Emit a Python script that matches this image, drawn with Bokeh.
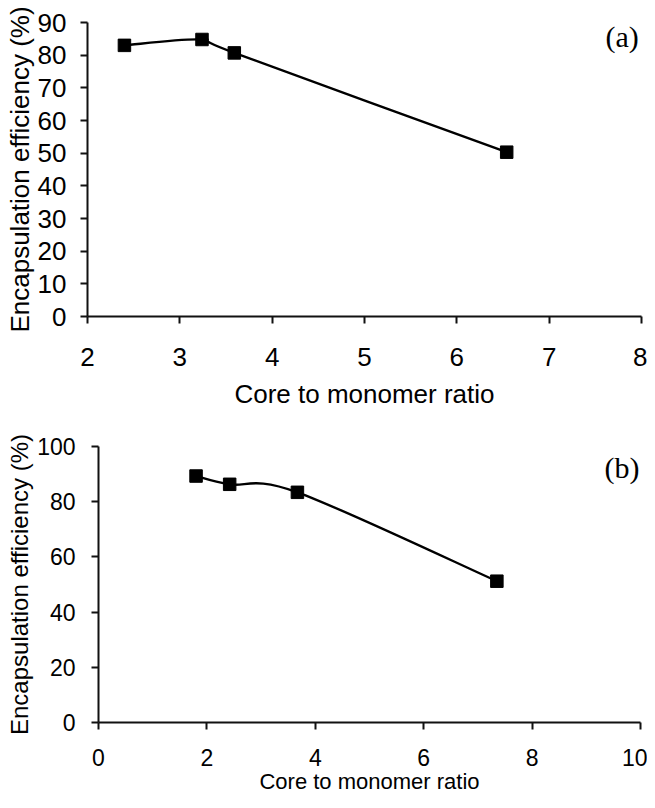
from bokeh.plotting import figure
from bokeh.models import Range1d, FixedTicker, Label, ColumnDataSource
from bokeh.embed import file_html
from bokeh.resources import INLINE

# ---- data ----
ratio_a = [2.40, 3.24, 3.59, 6.54]
eff_a = [83.0, 84.8, 80.7, 50.3]
ratio_b = [1.80, 2.42, 3.67, 7.35]
eff_b = [89.3, 86.3, 83.4, 51.2]

xticks_a = [2, 3, 4, 5, 6, 7, 8]
yticks_a = [0, 10, 20, 30, 40, 50, 60, 70, 80, 90]
xticks_b = [0, 2, 4, 6, 8, 10]
yticks_b = [0, 20, 40, 60, 80, 100]

x_title = "Core to monomer ratio"
y_title = "Encapsulation efficiency (%)"
panel_tags = ["(a)", "(b)"]


def smooth_segments(xs, ys):
    """Bezier control points for a smoothed (Catmull-Rom style) line through the data."""
    n = len(xs)
    d = dict(x0=[], y0=[], x1=[], y1=[], cx0=[], cy0=[], cx1=[], cy1=[])
    for i in range(n - 1):
        ip = max(i - 1, 0)
        inx = min(i + 2, n - 1)
        d["x0"].append(xs[i]); d["y0"].append(ys[i])
        d["x1"].append(xs[i + 1]); d["y1"].append(ys[i + 1])
        d["cx0"].append(xs[i] + (xs[i + 1] - xs[ip]) / 6.0)
        d["cy0"].append(ys[i] + (ys[i + 1] - ys[ip]) / 6.0)
        d["cx1"].append(xs[i + 1] - (xs[inx] - xs[i]) / 6.0)
        d["cy1"].append(ys[i + 1] - (ys[inx] - ys[i]) / 6.0)
    return d


def make_panel(xs, ys, xr, yr, xt, yt, tag, tag_pos, height, borders,
               tick_fs, xlab_fs, ylab_fs, xstd, ystd, xlab_std, ylab_std):
    p = figure(width=647, height=height, output_backend="svg", toolbar_location=None,
               x_range=Range1d(*xr), y_range=Range1d(*yr))
    p.min_border_left, p.min_border_right, p.min_border_top, p.min_border_bottom = borders
    p.outline_line_color = None
    p.background_fill_color = "white"
    p.border_fill_color = "white"
    p.xgrid.visible = False
    p.ygrid.visible = False

    for ax, ticks, fs, std in ((p.xaxis[0], xt, xlab_fs, xstd), (p.yaxis[0], yt, ylab_fs, ystd)):
        ax.ticker = FixedTicker(ticks=ticks)
        ax.minor_tick_line_color = None
        ax.major_tick_in = 0
        ax.major_tick_out = 7
        ax.axis_line_width = 2
        ax.axis_line_color = "#111111"
        ax.major_tick_line_width = 2
        ax.major_tick_line_color = "#111111"
        ax.major_label_text_font = "Liberation Sans"
        ax.major_label_text_font_size = tick_fs
        ax.major_label_text_color = "black"
        ax.axis_label_text_font = "Liberation Sans"
        ax.axis_label_text_font_style = "normal"
        ax.axis_label_text_font_size = fs
        ax.axis_label_text_color = "black"
        ax.major_label_standoff = std

    p.xaxis.axis_label = x_title
    p.yaxis.axis_label = y_title
    p.xaxis.axis_label_standoff = xlab_std
    p.yaxis.axis_label_standoff = ylab_std

    seg = ColumnDataSource(smooth_segments(xs, ys))
    p.bezier(x0="x0", y0="y0", x1="x1", y1="y1", cx0="cx0", cy0="cy0",
             cx1="cx1", cy1="cy1", source=seg, line_color="black", line_width=2.4)
    p.scatter(xs, ys, marker="square", size=12.5, fill_color="black", line_color="black")

    p.add_layout(Label(x=tag_pos[0], y=tag_pos[1], text=tag, text_align="right",
                       text_baseline="middle", text_font="Liberation Serif",
                       text_font_size="30px", text_color="black"))
    return p


pa = make_panel(ratio_a, eff_a, (2, 8), (0, 90), xticks_a, yticks_a, panel_tags[0],
                (7.97, 85.6), 428, (87, 6, 22, 112),
                "26px", "26px", "26px", 24, 14, 10, 0)
pb = make_panel(ratio_b, eff_b, (0, 10), (0, 100), xticks_b, yticks_b, panel_tags[1],
                (9.98, 92.5), 372, (98, 7, 18, 78),
                "23px", "22px", "24px", 19, 16, 0, 1)

open("out.html", "w").write(file_html([pa, pb], INLINE))
